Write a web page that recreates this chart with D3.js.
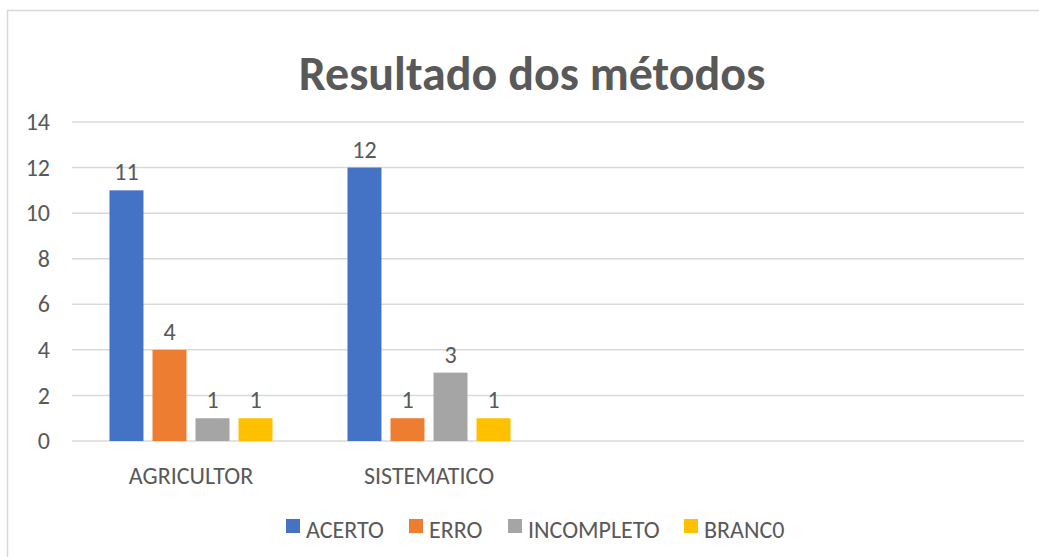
<!DOCTYPE html>
<html>
<head>
<meta charset="utf-8">
<script src="https://cdn.jsdelivr.net/npm/d3@7"></script>
<style>
  body { margin: 0; background: #fff; }
  svg { display: block; }
  text { font-family: Calibri, Carlito, "Open Sans", sans-serif; fill: #595959; }
</style>
</head>
<body>
<svg id="chart" width="1039" height="557"></svg>
<script>
// categorias (as duas últimas vazias como no original)
const categories = ["AGRICULTOR", "SISTEMATICO", "", ""];
const seriesNames = ["ACERTO", "ERRO", "INCOMPLETO", "BRANC0"];
const acerto = [11, 12, null, null];
const erro = [4, 1, null, null];
const incompleto = [1, 3, null, null];
const branco = [1, 1, null, null];
const yTicks = [0, 2, 4, 6, 8, 10, 12, 14];

const colors = ["#4472c4", "#ed7d31", "#a5a5a5", "#ffc000"];
const seriesValues = [acerto, erro, incompleto, branco];
const fontFam = "Calibri, Carlito, 'Open Sans', sans-serif";

const svg = d3.select("#chart");
const margin = { left: 72 };

// moldura do gráfico
svg.append("rect")
    .attr("x", 7.5).attr("y", 10.5)
    .attr("width", 1060).attr("height", 600)
    .attr("fill", "none")
    .attr("stroke", "#d9d9d9")
    .attr("stroke-width", 1.5);

svg.append("text")
    .attr("x", 532).attr("y", 90)
    .attr("text-anchor", "middle")
    .attr("font-size", "48px")
    .attr("font-weight", "bold")
    .text("Resultado dos métodos");

const x0 = d3.scaleBand()
    .domain(d3.range(categories.length))
    .range([margin.left, 1024])
    .paddingInner(0.315)
    .paddingOuter(0.1575);

const x1 = d3.scaleBand()
    .domain(seriesNames)
    .range([0, x0.bandwidth()])
    .paddingInner(0.21);

const y = d3.scaleLinear()
    .domain([0, 14])
    .range([441, 122]);

// grade
svg.append("g")
    .selectAll("line")
    .data(yTicks)
    .join("line")
    .attr("x1", margin.left).attr("x2", 1024)
    .attr("y1", d => y(d)).attr("y2", d => y(d))
    .attr("stroke", "#d9d9d9")
    .attr("stroke-width", 1.5);

// eixo y
const yAxis = svg.append("g")
    .attr("transform", `translate(${margin.left - 22},0)`)
    .call(d3.axisLeft(y).tickValues(yTicks).tickSize(0).tickPadding(0));
yAxis.select(".domain").remove();
yAxis.selectAll("text")
    .attr("font-size", "24px")
    .attr("fill", "#595959")
    .style("font-family", fontFam);

// eixo x
const xAxis = svg.append("g")
    .attr("transform", `translate(0,${y(0)})`)
    .call(d3.axisBottom(x0).tickFormat(i => categories[i]).tickSize(0).tickPadding(26));
xAxis.select(".domain").remove();
xAxis.selectAll("text")
    .attr("font-size", "24px")
    .attr("fill", "#595959")
    .style("font-family", fontFam);

// barras
const rows = [];
categories.forEach((c, i) => {
    seriesNames.forEach((s, j) => {
        if (seriesValues[j][i] != null) rows.push({ cat: i, serie: s, idx: j, value: seriesValues[j][i] });
    });
});

svg.append("g")
    .selectAll("rect")
    .data(rows)
    .join("rect")
    .attr("x", d => x0(d.cat) + x1(d.serie))
    .attr("y", d => y(d.value))
    .attr("width", x1.bandwidth())
    .attr("height", d => y(0) - y(d.value))
    .attr("fill", d => colors[d.idx]);

svg.append("g")
    .selectAll("text")
    .data(rows)
    .join("text")
    .attr("x", d => x0(d.cat) + x1(d.serie) + x1.bandwidth() / 2)
    .attr("y", d => y(d.value) - 10)
    .attr("text-anchor", "middle")
    .attr("font-size", "24px")
    .text(d => d.value);

// legenda
const legendX = [286, 409, 508, 684];
const legend = svg.append("g")
    .selectAll("g")
    .data(seriesNames)
    .join("g")
    .attr("transform", (d, i) => `translate(${legendX[i]},519)`);
legend.append("rect")
    .attr("width", 14).attr("height", 14)
    .attr("fill", (d, i) => colors[i]);
legend.append("text")
    .attr("x", 20).attr("y", 19)
    .attr("font-size", "24px")
    .text(d => d);
</script>
</body>
</html>
